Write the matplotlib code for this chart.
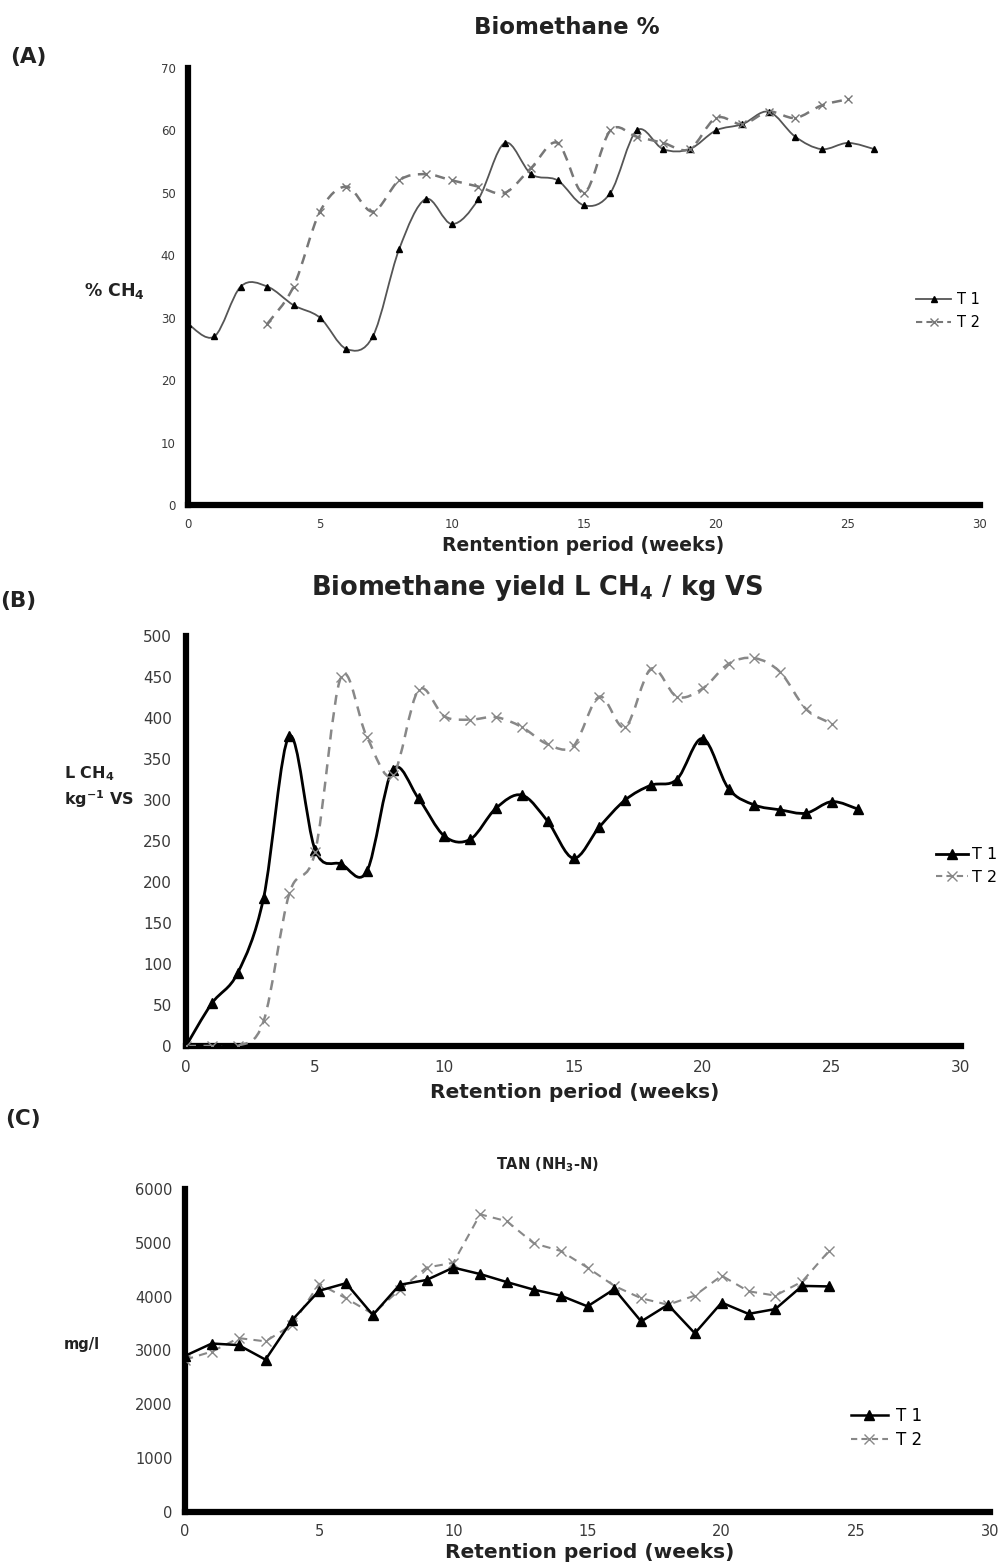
import numpy as np
import matplotlib
matplotlib.use("Agg")
import matplotlib.pyplot as plt
from matplotlib.path import Path
from matplotlib.patches import PathPatch
from matplotlib.lines import Line2D

plt.rcParams['font.family'] = ['DejaVu Sans']
plt.rcParams['mathtext.fontset'] = 'dejavusans'

# ---- Data ----
# (A) Biomethane %
a_t1_weeks = list(range(0, 27))
a_t1 = [29, 27, 35, 35, 32, 30, 25, 27, 41, 49, 45, 49, 58, 53, 52, 48, 50,
        60, 57, 57, 60, 61, 63, 59, 57, 58, 57]
a_t2_weeks = list(range(3, 26))
a_t2 = [29, 35, 47, 51, 47, 52, 53, 52, 51, 50, 54, 58, 50, 60, 59, 58, 57,
        62, 61, 63, 62, 64, 65]

# (B) Biomethane yield L CH4 / kg VS
b_t1_weeks = list(range(0, 27))
b_t1 = [0, 52, 89, 180, 378, 239, 222, 213, 337, 302, 256, 252, 290, 306, 274,
        229, 267, 300, 318, 325, 375, 314, 294, 288, 284, 298, 289]
b_t2_weeks = list(range(0, 26))
b_t2 = [0, 0, 0, 30, 186, 237, 450, 377, 330, 434, 402, 398, 401, 389, 368,
        366, 426, 389, 460, 426, 436, 466, 473, 456, 411, 393]

# (C) TAN (NH3-N) mg/l
c_weeks = list(range(0, 25))
c_t1 = [2900, 3130, 3100, 2830, 3570, 4110, 4250, 3660, 4220, 4310, 4540, 4420,
        4270, 4130, 4020, 3820, 4140, 3540, 3850, 3320, 3890, 3680, 3770, 4200, 4190]
c_t2 = [2830, 2980, 3230, 3170, 3480, 4240, 3970, 3680, 4130, 4540, 4630, 5530,
        5400, 4990, 4850, 4540, 4200, 3970, 3850, 4020, 4390, 4100, 4020, 4280, 4850]

x_ticks = [0, 5, 10, 15, 20, 25, 30]
TXT = '#222222'


def smooth_path(ax, xs, ys, **kw):
    """Excel-style smoothed line drawn as cubic Bezier segments through the data points."""
    xs = np.asarray(xs, float)
    ys = np.asarray(ys, float)
    n = len(xs)
    verts = [(xs[0], ys[0])]
    codes = [Path.MOVETO]
    for i in range(n - 1):
        p0 = np.array([xs[max(i - 1, 0)], ys[max(i - 1, 0)]])
        p1 = np.array([xs[i], ys[i]])
        p2 = np.array([xs[i + 1], ys[i + 1]])
        p3 = np.array([xs[min(i + 2, n - 1)], ys[min(i + 2, n - 1)]])
        c1 = p1 + (p2 - p0) / 6.0
        c2 = p2 - (p3 - p1) / 6.0
        verts += [tuple(c1), tuple(c2), tuple(p2)]
        codes += [Path.CURVE4] * 3
    patch = PathPatch(Path(verts, codes), fill=False, **kw)
    ax.add_patch(patch)
    return patch


def style_axes(ax, ylim, yticks, tick_fs, pad=8):
    ax.set_xlim(0, 30)
    ax.set_ylim(*ylim)
    ax.set_xticks(x_ticks)
    ax.set_yticks(yticks)
    for s in ['top', 'right']:
        ax.spines[s].set_visible(False)
    ax.spines['left'].set_linewidth(4.5)
    ax.spines['bottom'].set_linewidth(4.5)
    ax.tick_params(length=0, labelsize=tick_fs, colors='#3a3a3a', pad=pad)


W, H = 1006, 1564
fig = plt.figure(figsize=(W / 100, H / 100), dpi=100)


def fx(px):
    return px / W


def fy(py):
    return 1 - py / H


t1_marker = dict(marker='^', color='black', markersize=6, linestyle='none', zorder=4)
t2_marker = dict(marker='x', color='#777777', markersize=6, markeredgewidth=1.0,
                 linestyle='none', zorder=4)

# ---------------- (A) ----------------
axA = fig.add_axes([fx(188), fy(505), fx(980) - fx(188), fy(68) - fy(505)])
style_axes(axA, (0, 70), range(0, 71, 10), 8.5, pad=9)
smooth_path(axA, a_t1_weeks, a_t1, edgecolor='#555555', linewidth=1.3, zorder=3)
smooth_path(axA, a_t2_weeks, a_t2, edgecolor='#777777', linewidth=1.8,
            linestyle=(0, (4, 3)), zorder=3)
axA.plot(a_t1_weeks, a_t1, **dict(t1_marker, markersize=5))
axA.plot(a_t2_weeks, a_t2, **t2_marker)
fig.text(fx(567), fy(27), 'Biomethane %', ha='center', va='center',
         fontsize=16.5, fontweight='bold', color=TXT)
fig.text(fx(10), fy(57), '(A)', ha='left', va='center', fontsize=15.5,
         fontweight='bold', color=TXT)
fig.text(fx(84), fy(291), r'% CH$_\mathbf{4}$', ha='left', va='center', fontsize=12.5,
         fontweight='bold', color=TXT)
fig.text(fx(583), fy(546), 'Rentention period (weeks)', ha='center', va='center',
         fontsize=13.5, fontweight='bold', color=TXT)
legA = [Line2D([], [], color='#555555', lw=1.3, marker='^', markersize=5,
               markerfacecolor='black', markeredgecolor='black', label='T 1'),
        Line2D([], [], color='#777777', lw=1.5, ls=(0, (3, 2)), marker='x',
               markersize=6, label='T 2')]
fig.legend(handles=legA, loc='center left', bbox_to_anchor=(fx(903), fy(311)),
           frameon=False, fontsize=10.5, handlelength=2.4, handletextpad=0.4,
           labelspacing=0.5)

# ---------------- (B) ----------------
axB = fig.add_axes([fx(186), fy(1046), fx(961) - fx(186), fy(636) - fy(1046)])
style_axes(axB, (0, 500), range(0, 501, 50), 11, pad=10)
smooth_path(axB, b_t1_weeks, b_t1, edgecolor='black', linewidth=2.0, zorder=3)
smooth_path(axB, b_t2_weeks, b_t2, edgecolor='#888888', linewidth=1.8,
            linestyle=(0, (4, 3)), zorder=3)
axB.plot(b_t1_weeks, b_t1, **dict(t1_marker, markersize=7))
axB.plot(b_t2_weeks, b_t2, **dict(t2_marker, color='#888888', markersize=7))
fig.text(fx(537), fy(588), r'Biomethane yield L CH$_\mathbf{4}$ / kg VS', ha='center',
         va='center', fontsize=18.5, fontweight='bold', color=TXT)
fig.text(fx(0), fy(601), '(B)', ha='left', va='center', fontsize=15.5,
         fontweight='bold', color=TXT)
fig.text(fx(64), fy(787), 'L CH$_\\mathbf{4}$\nkg$^\\mathbf{-1}$ VS', ha='left', va='center',
         fontsize=11.5, fontweight='bold', color=TXT, linespacing=1.35)
fig.text(fx(575), fy(1093), 'Retention period (weeks)', ha='center', va='center',
         fontsize=14.5, fontweight='bold', color=TXT)
legB = [Line2D([], [], color='black', lw=2.0, marker='^', markersize=7, label='T 1'),
        Line2D([], [], color='#888888', lw=1.5, ls=(0, (3, 2)), marker='x',
               markersize=7, label='T 2')]
fig.legend(handles=legB, loc='center left', bbox_to_anchor=(fx(922), fy(866)),
           frameon=False, fontsize=11.5, handlelength=2.0, handletextpad=0.2,
           labelspacing=0.45)

# ---------------- (C) ----------------
axC = fig.add_axes([fx(185), fy(1512), fx(990) - fx(185), fy(1189) - fy(1512)])
style_axes(axC, (0, 6000), range(0, 6001, 1000), 10.5, pad=9)
axC.plot(c_weeks, c_t1, color='black', lw=1.8, marker='^', markersize=7, zorder=4)
axC.plot(c_weeks, c_t2, color='#888888', lw=1.5, ls=(0, (4, 3)), marker='x',
         markersize=7, zorder=3)
fig.text(fx(547), fy(1165), r'TAN (NH$_\mathbf{3}$-N)', ha='center', va='center',
         fontsize=10.5, fontweight='bold', color=TXT)
fig.text(fx(5), fy(1119), '(C)', ha='left', va='center', fontsize=15.5,
         fontweight='bold', color=TXT)
fig.text(fx(64), fy(1345), 'mg/l', ha='left', va='center', fontsize=10.5,
         fontweight='bold', color=TXT)
fig.text(fx(590), fy(1552), 'Retention period (weeks)', ha='center', va='center',
         fontsize=14.5, fontweight='bold', color=TXT)
legC = [Line2D([], [], color='black', lw=1.8, marker='^', markersize=7, label='T 1'),
        Line2D([], [], color='#888888', lw=1.5, ls=(0, (3, 2)), marker='x',
               markersize=7, label='T 2')]
fig.legend(handles=legC, loc='center left', bbox_to_anchor=(fx(836), fy(1428)),
           frameon=False, fontsize=12, handlelength=2.2, handletextpad=0.5,
           labelspacing=0.35)

fig.savefig('out.png', dpi=100)
